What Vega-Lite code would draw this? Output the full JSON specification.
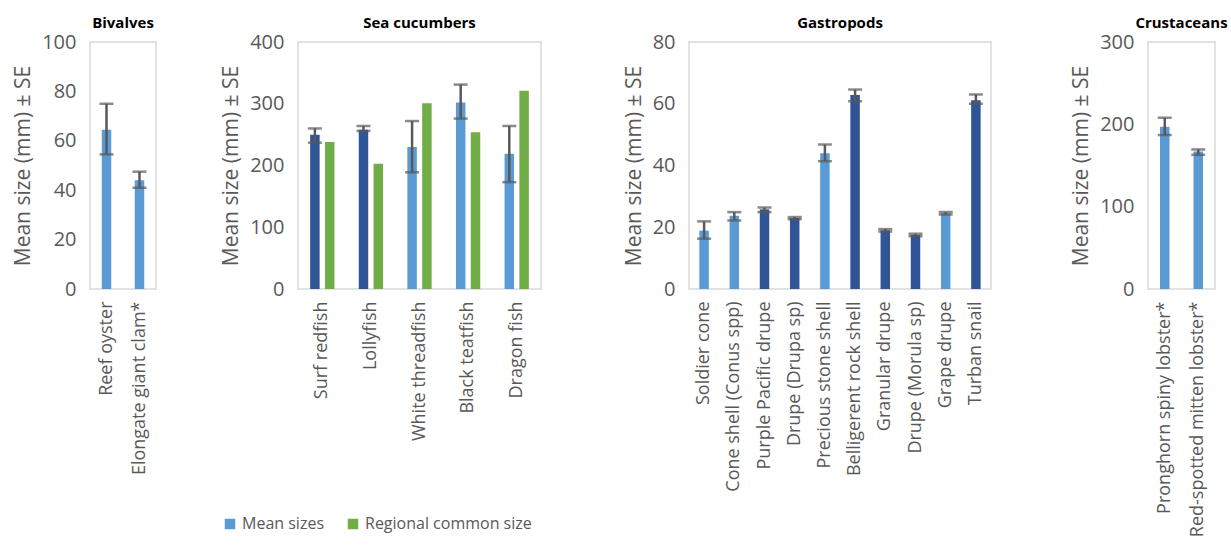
{
  "$schema": "https://vega.github.io/schema/vega-lite/v6.json",
  "padding": {"left": 11, "top": 15, "right": 5, "bottom": 5},
  "background": "white",
  "datasets": {
    "sizes": [
      {"group": "Bivalves", "species": "Reef  oyster", "series": "Mean sizes", "colorKey": "Mean sizes", "value": 64.5, "lo": 54.5, "hi": 75},
      {"group": "Bivalves", "species": "Elongate giant clam*", "series": "Mean sizes", "colorKey": "Mean sizes", "value": 44, "lo": 41, "hi": 47.5},
      {"group": "Sea cucumbers", "species": "Surf redfish", "series": "Mean sizes", "colorKey": "dark", "value": 250, "lo": 237, "hi": 260},
      {"group": "Sea cucumbers", "species": "Surf redfish", "series": "Regional common size", "colorKey": "Regional common size", "value": 238, "lo": null, "hi": null},
      {"group": "Sea cucumbers", "species": "Lollyfish", "series": "Mean sizes", "colorKey": "dark", "value": 258, "lo": 256, "hi": 264},
      {"group": "Sea cucumbers", "species": "Lollyfish", "series": "Regional common size", "colorKey": "Regional common size", "value": 203, "lo": null, "hi": null},
      {"group": "Sea cucumbers", "species": "White threadfish", "series": "Mean sizes", "colorKey": "Mean sizes", "value": 230, "lo": 189, "hi": 272},
      {"group": "Sea cucumbers", "species": "White threadfish", "series": "Regional common size", "colorKey": "Regional common size", "value": 301, "lo": null, "hi": null},
      {"group": "Sea cucumbers", "species": "Black teatfish", "series": "Mean sizes", "colorKey": "Mean sizes", "value": 302, "lo": 276, "hi": 331},
      {"group": "Sea cucumbers", "species": "Black teatfish", "series": "Regional common size", "colorKey": "Regional common size", "value": 254, "lo": null, "hi": null},
      {"group": "Sea cucumbers", "species": "Dragon fish", "series": "Mean sizes", "colorKey": "Mean sizes", "value": 219, "lo": 173, "hi": 264},
      {"group": "Sea cucumbers", "species": "Dragon fish", "series": "Regional common size", "colorKey": "Regional common size", "value": 321, "lo": null, "hi": null},
      {"group": "Gastropods", "species": "Soldier cone", "series": "Mean sizes", "colorKey": "Mean sizes", "value": 18.9, "lo": 16.3, "hi": 21.9},
      {"group": "Gastropods", "species": "Cone shell (Conus spp)", "series": "Mean sizes", "colorKey": "Mean sizes", "value": 23.7, "lo": 22.2, "hi": 24.9},
      {"group": "Gastropods", "species": "Purple Pacific drupe", "series": "Mean sizes", "colorKey": "dark", "value": 25.8, "lo": 24.9, "hi": 26.4},
      {"group": "Gastropods", "species": "Drupe (Drupa sp)", "series": "Mean sizes", "colorKey": "dark", "value": 23, "lo": 22.6, "hi": 23.3},
      {"group": "Gastropods", "species": "Precious stone shell", "series": "Mean sizes", "colorKey": "Mean sizes", "value": 44, "lo": 41.4, "hi": 46.8},
      {"group": "Gastropods", "species": "Belligerent  rock shell", "series": "Mean sizes", "colorKey": "dark", "value": 62.8, "lo": 60.8, "hi": 64.6},
      {"group": "Gastropods", "species": "Granular drupe", "series": "Mean sizes", "colorKey": "dark", "value": 19, "lo": 18.6, "hi": 19.4},
      {"group": "Gastropods", "species": "Drupe (Morula sp)", "series": "Mean sizes", "colorKey": "dark", "value": 17.5, "lo": 17.1, "hi": 17.9},
      {"group": "Gastropods", "species": "Grape drupe", "series": "Mean sizes", "colorKey": "Mean sizes", "value": 24.5, "lo": 24.1, "hi": 24.9},
      {"group": "Gastropods", "species": "Turban snail", "series": "Mean sizes", "colorKey": "dark", "value": 61.1, "lo": 60, "hi": 63},
      {"group": "Crustaceans", "species": "Pronghorn spiny lobster*", "series": "Mean sizes", "colorKey": "Mean sizes", "value": 197, "lo": 187, "hi": 208},
      {"group": "Crustaceans", "species": "Red-spotted mitten lobster*", "series": "Mean sizes", "colorKey": "Mean sizes", "value": 167, "lo": 163, "hi": 169.5}
    ]
  },
  "data": {"name": "sizes"},
  "spacing": 80,
  "hconcat": [
    {
      "spacing": 62,
      "hconcat": [
        {
          "width": 66, "height": 247,
          "title": "Bivalves",
          "transform": [{"filter": "datum.group === 'Bivalves'"}],
          "encoding": {
            "x": {"field": "species", "type": "nominal", "sort": null, "title": null,
                  "scale": {"paddingInner": 0.7, "paddingOuter": 0.35}}
          },
          "layer": [
            {"mark": {"type": "bar", "size": 9.5},
             "encoding": {
               "y": {"field": "value", "type": "quantitative", "title": "Mean size (mm) ± SE",
                     "scale": {"domain": [0, 100], "nice": false},
                     "axis": {"values": [0, 20, 40, 60, 80, 100]}},
               "color": {"field": "colorKey", "type": "nominal",
                         "scale": {"domain": ["Mean sizes", "Regional common size", "dark"], "range": ["#5B9BD5", "#70AD47", "#2F5597"]},
                         "legend": {"values": ["Mean sizes", "Regional common size"], "title": null, "orient": "none", "direction": "horizontal", "legendX": 132, "legendY": 474}}
             }},
            {"mark": {"type": "rule", "color": "#595959", "strokeWidth": 2.5},
             "encoding": {"y": {"field": "lo", "type": "quantitative"}, "y2": {"field": "hi"}}},
            {"mark": {"type": "tick", "color": "#595959", "thickness": 2.5, "size": 14},
             "encoding": {"y": {"field": "lo", "type": "quantitative"}}},
            {"mark": {"type": "tick", "color": "#595959", "thickness": 2.5, "size": 14},
             "encoding": {"y": {"field": "hi", "type": "quantitative"}}}
          ]
        },
        {
          "width": 243, "height": 247,
          "title": "Sea cucumbers",
          "transform": [{"filter": "datum.group === 'Sea cucumbers'"}],
          "encoding": {
            "x": {"field": "species", "type": "nominal", "sort": null, "title": null,
                  "scale": {"paddingInner": 0.5, "paddingOuter": 0.25}}
          },
          "layer": [
            {"mark": {"type": "bar"},
             "encoding": {
               "xOffset": {"field": "series", "type": "nominal", "sort": ["Mean sizes", "Regional common size"], "scale": {"paddingInner": 0.36}},
               "y": {"field": "value", "type": "quantitative", "title": "Mean size (mm) ± SE",
                     "scale": {"domain": [0, 400], "nice": false},
                     "axis": {"values": [0, 100, 200, 300, 400]}},
               "color": {"field": "colorKey", "type": "nominal",
                         "scale": {"domain": ["Mean sizes", "Regional common size", "dark"], "range": ["#5B9BD5", "#70AD47", "#2F5597"]},
                         "legend": {"values": ["Mean sizes", "Regional common size"], "title": null, "orient": "none", "direction": "horizontal", "legendX": 132, "legendY": 474}}
             }},
            {"transform": [{"filter": "isValid(datum.lo)"}],
             "mark": {"type": "rule", "color": "#595959", "strokeWidth": 2.5},
             "encoding": {"xOffset": {"field": "series", "type": "nominal"}, "y": {"field": "lo", "type": "quantitative"}, "y2": {"field": "hi"}}},
            {"transform": [{"filter": "isValid(datum.lo)"}],
             "mark": {"type": "tick", "color": "#595959", "thickness": 2.5, "size": 14},
             "encoding": {"xOffset": {"field": "series", "type": "nominal"}, "y": {"field": "lo", "type": "quantitative"}}},
            {"transform": [{"filter": "isValid(datum.lo)"}],
             "mark": {"type": "tick", "color": "#595959", "thickness": 2.5, "size": 14},
             "encoding": {"xOffset": {"field": "series", "type": "nominal"}, "y": {"field": "hi", "type": "quantitative"}}}
          ]
        }
      ]
    },
    {
      "spacing": 77,
      "hconcat": [
        {
          "width": 302, "height": 247,
          "title": "Gastropods",
          "transform": [{"filter": "datum.group === 'Gastropods'"}],
          "encoding": {
            "x": {"field": "species", "type": "nominal", "sort": null, "title": null,
                  "scale": {"paddingInner": 0.68, "paddingOuter": 0.34}}
          },
          "layer": [
            {"mark": {"type": "bar", "size": 9.5},
             "encoding": {
               "y": {"field": "value", "type": "quantitative", "title": "Mean size (mm) ± SE",
                     "scale": {"domain": [0, 80], "nice": false},
                     "axis": {"values": [0, 20, 40, 60, 80]}},
               "color": {"field": "colorKey", "type": "nominal",
                         "scale": {"domain": ["Mean sizes", "Regional common size", "dark"], "range": ["#5B9BD5", "#70AD47", "#2F5597"]},
                         "legend": {"values": ["Mean sizes", "Regional common size"], "title": null, "orient": "none", "direction": "horizontal", "legendX": 132, "legendY": 474}}
             }},
            {"mark": {"type": "rule", "color": "#595959", "strokeWidth": 2.5},
             "encoding": {"y": {"field": "lo", "type": "quantitative"}, "y2": {"field": "hi"}}},
            {"mark": {"type": "tick", "color": "#595959", "thickness": 2.5, "size": 14},
             "encoding": {"y": {"field": "lo", "type": "quantitative"}}},
            {"mark": {"type": "tick", "color": "#595959", "thickness": 2.5, "size": 14},
             "encoding": {"y": {"field": "hi", "type": "quantitative"}}}
          ]
        },
        {
          "width": 67, "height": 247,
          "title": "Crustaceans",
          "transform": [{"filter": "datum.group === 'Crustaceans'"}],
          "encoding": {
            "x": {"field": "species", "type": "nominal", "sort": null, "title": null,
                  "scale": {"paddingInner": 0.7, "paddingOuter": 0.35}}
          },
          "layer": [
            {"mark": {"type": "bar", "size": 9.5},
             "encoding": {
               "y": {"field": "value", "type": "quantitative", "title": "Mean size (mm) ± SE",
                     "scale": {"domain": [0, 300], "nice": false},
                     "axis": {"values": [0, 100, 200, 300]}},
               "color": {"field": "colorKey", "type": "nominal",
                         "scale": {"domain": ["Mean sizes", "Regional common size", "dark"], "range": ["#5B9BD5", "#70AD47", "#2F5597"]},
                         "legend": {"values": ["Mean sizes", "Regional common size"], "title": null, "orient": "none", "direction": "horizontal", "legendX": 132, "legendY": 474}}
             }},
            {"mark": {"type": "rule", "color": "#595959", "strokeWidth": 2.5},
             "encoding": {"y": {"field": "lo", "type": "quantitative"}, "y2": {"field": "hi"}}},
            {"mark": {"type": "tick", "color": "#595959", "thickness": 2.5, "size": 14},
             "encoding": {"y": {"field": "lo", "type": "quantitative"}}},
            {"mark": {"type": "tick", "color": "#595959", "thickness": 2.5, "size": 14},
             "encoding": {"y": {"field": "hi", "type": "quantitative"}}}
          ]
        }
      ]
    }
  ],
  "config": {
    "view": {"stroke": "#D9D9D9", "strokeWidth": 1.5},
    "font": "Open Sans",
    "axis": {"labelFont": "Open Sans", "titleFont": "Open Sans", "labelColor": "#595959", "titleColor": "#595959",
             "domain": false, "ticks": false, "grid": false},
    "axisY": {"labelFontSize": 20, "titleFontSize": 21, "titleFontWeight": "normal", "labelPadding": 14, "titlePadding": 8},
    "axisX": {"labelAngle": -90, "labelFontSize": 18, "labelPadding": 12, "labelLimit": 300},
    "title": {"font": "Open Sans", "fontSize": 15, "fontWeight": "bold", "color": "#000000", "offset": 1, "frame": "group", "anchor": "middle"},
    "legend": {"labelFont": "Open Sans", "labelFontSize": 16, "labelColor": "#595959", "labelLimit": 400, "symbolType": "square", "symbolSize": 110, "symbolStrokeWidth": 0, "columnPadding": 20, "labelOffset": 4}
  }
}
